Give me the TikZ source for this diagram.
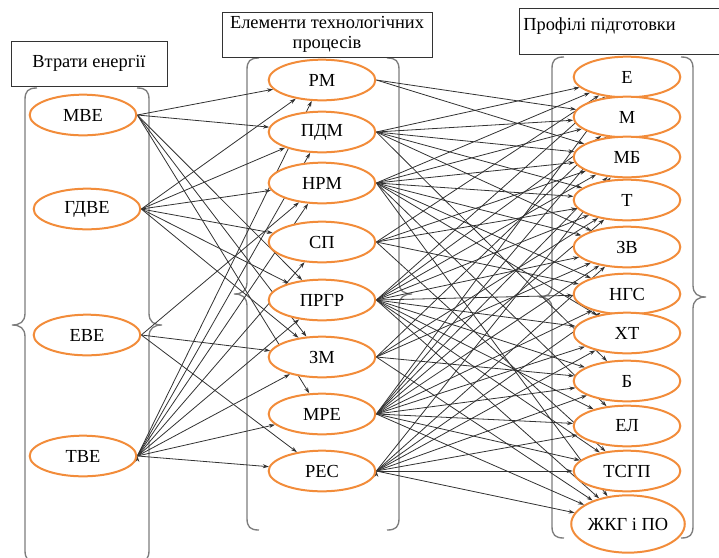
\documentclass[tikz,border=0pt]{standalone}
\usepackage{fontspec}
\setmainfont{Liberation Serif}
\usetikzlibrary{arrows,arrows.meta,shapes.geometric,backgrounds,positioning}
\definecolor{ovalorange}{RGB}{242,140,58}
\definecolor{linkgray}{RGB}{50,50,50}
\definecolor{panelgray}{RGB}{125,125,125}

\begin{document}
\begin{tikzpicture}
[x=0.75pt, y=-0.75pt,
% STYLES
every node/.style={font=\fontsize{13.8}{15}\selectfont},
% The oval style is used to draw the name of each item
oval/.style={ellipse, draw=ovalorange, line width=1.5pt, fill=white, inner sep=0pt, minimum width=80pt, minimum height=30.5pt},
% The header style is used to draw the title of each column
header/.style={rectangle, draw=black!80, line width=0.7pt, inner sep=0pt},
% The panel style is used to draw the braces round each column
panel/.style={draw=panelgray, line width=1pt},
% The link style is used to draw the arrows between items
link/.style={draw=linkgray, line width=0.6pt, -{Stealth[length=4.5pt,width=3pt]}}]

\useasboundingbox (0,0) rectangle (719,558);

% Draw headers
\node [header, minimum width=117pt, minimum height=33.75pt] (lossbox) at (89,63.5) {Втрати енергії};
\node [header, minimum width=157.5pt, minimum height=33.75pt, align=center] (techbox) at (327,34.5) {Елементи технологічних\\процесів};
\node [header, minimum width=160pt, minimum height=34.5pt, anchor=north west] (profbox) at (519,8) {};
\node [anchor=north west, inner sep=0pt] (proftext) at (523,17) {Профілі підготовки};

% Draw losses
\node [oval] (mbe) at (83,115) {МВЕ};
\node [oval] (gdve) at (87,209) {ГДВЕ};
\node [oval] (eve) at (87,335) {ЕВЕ};
\node [oval] (tve) at (83,456) {ТВЕ};

% Draw process elements
\node [oval] (rm) at (322,80) {РМ};
\node [oval] (pdm) at (322,132) {ПДМ};
\node [oval] (nrm) at (322,183) {НРМ};
\node [oval] (sp) at (322,242) {СП};
\node [oval] (prgr) at (322,300) {ПРГР};
\node [oval] (zm) at (322,357) {ЗМ};
\node [oval] (mre) at (322,414) {МРЕ};
\node [oval] (res) at (322,471) {РЕС};

% Draw profiles
\node [oval] (e) at (627,77) {Е};
\node [oval] (m) at (627,117) {М};
\node [oval] (mb) at (627,157) {МБ};
\node [oval] (t) at (627,200) {Т};
\node [oval] (zv) at (627,247) {ЗВ};
\node [oval] (ngs) at (627,294) {НГС};
\node [oval] (kht) at (627,333) {ХТ};
\node [oval] (b) at (627,381) {Б};
\node [oval] (el) at (627,426) {ЕЛ};
\node [oval] (tsgp) at (627,471) {ТСГП};
\node [oval, minimum width=81pt, minimum height=43pt] (zhkg) at (628,524) {ЖКГ і ПО};

\begin{scope}[on background layer]
% LOSSES
\draw [panel] (37,88) .. controls (28,88) and (25,91) .. (25,100) -- (25,313) .. controls (25,322) and (20,325) .. (12,325) .. controls (20,325) and (25,328) .. (25,337) -- (25,550) .. controls (25,559) and (28,562) .. (37,562);
\draw [panel] (137,88) .. controls (146,88) and (149,91) .. (149,100) -- (149,313) .. controls (149,322) and (154,325) .. (162,325) .. controls (154,325) and (149,328) .. (149,337) -- (149,550) .. controls (149,559) and (146,562) .. (137,562);
% PROCESS ELEMENTS
\draw [panel] (259,58) .. controls (250,58) and (247,61) .. (247,70) -- (247,282) .. controls (247,291) and (242,294) .. (234,294) .. controls (242,294) and (247,297) .. (247,306) -- (247,518) .. controls (247,527) and (250,530) .. (259,530);
\draw [panel] (387,58) .. controls (396,58) and (399,61) .. (399,70) -- (399,282) .. controls (399,291) and (404,294) .. (412,294) .. controls (404,294) and (399,297) .. (399,306) -- (399,518) .. controls (399,527) and (396,530) .. (387,530);
% PROFILES
\draw [panel] (564,57) .. controls (555,57) and (552,60) .. (552,69) -- (552,285) .. controls (552,294) and (547,297) .. (539,297) .. controls (547,297) and (552,300) .. (552,309) -- (552,526) .. controls (552,535) and (555,538) .. (564,538);
\draw [panel] (681,57) .. controls (690,57) and (693,60) .. (693,69) -- (693,285) .. controls (693,294) and (698,297) .. (706,297) .. controls (698,297) and (693,300) .. (693,309) -- (693,526) .. controls (693,535) and (690,538) .. (681,538);

% Draw the links from losses to process elements
\path [link]
    (mbe.east) edge (rm)
    (mbe.east) edge (pdm)
    (mbe.east) edge (prgr)
    (mbe.east) edge (zm)
    (mbe.east) edge (mre)
    (gdve.east) edge (rm)
    (gdve.east) edge (pdm)
    (gdve.east) edge (nrm)
    (gdve.east) edge (sp)
    (gdve.east) edge (prgr)
    (gdve.east) edge (zm)
    (eve.east) edge (nrm)
    (eve.east) edge (zm)
    (eve.east) edge (res)
    (tve.east) edge (rm)
    (tve.east) edge (pdm)
    (tve.east) edge (nrm)
    (tve.east) edge (sp)
    (tve.east) edge (prgr)
    (tve.east) edge (zm)
    (tve.east) edge (mre)
    (tve.east) edge (res);

% Draw the links from process elements to profiles
\path [link]
    (rm.east) edge (m)
    (rm.east) edge (mb)
    (pdm.east) edge (e)
    (pdm.east) edge (m)
    (pdm.east) edge (mb)
    (pdm.east) edge (t)
    (pdm.east) edge (zv)
    (pdm.east) edge (b)
    (nrm.east) edge (e)
    (nrm.east) edge (m)
    (nrm.east) edge (mb)
    (nrm.east) edge (t)
    (nrm.east) edge (zv)
    (nrm.east) edge (ngs)
    (nrm.east) edge (kht)
    (nrm.east) edge (el)
    (nrm.east) edge (zhkg)
    (sp.east) edge (e)
    (sp.east) edge (mb)
    (sp.east) edge (t)
    (sp.east) edge (ngs)
    (sp.east) edge (tsgp)
    (prgr.east) edge (e)
    (prgr.east) edge (m)
    (prgr.east) edge (mb)
    (prgr.east) edge (t)
    (prgr.east) edge (zv)
    (prgr.east) edge (ngs)
    (prgr.east) edge (kht)
    (prgr.east) edge (b)
    (prgr.east) edge (el)
    (prgr.east) edge (tsgp)
    (prgr.east) edge (zhkg)
    (zm.east) edge (m)
    (zm.east) edge (t)
    (zm.east) edge (zv)
    (zm.east) edge (b)
    (zm.east) edge (zhkg)
    (mre.east) edge (e)
    (mre.east) edge (m)
    (mre.east) edge (mb)
    (mre.east) edge (t)
    (mre.east) edge (zv)
    (mre.east) edge (ngs)
    (mre.east) edge (kht)
    (mre.east) edge (b)
    (mre.east) edge (el)
    (mre.east) edge (tsgp)
    (mre.east) edge (zhkg)
    (res.east) edge (mb)
    (res.east) edge (zv)
    (res.east) edge (ngs)
    (res.east) edge (kht)
    (res.east) edge (b)
    (res.east) edge (el)
    (res.east) edge (tsgp)
    (res.east) edge (zhkg);
\end{scope}

\end{tikzpicture}
\end{document}
